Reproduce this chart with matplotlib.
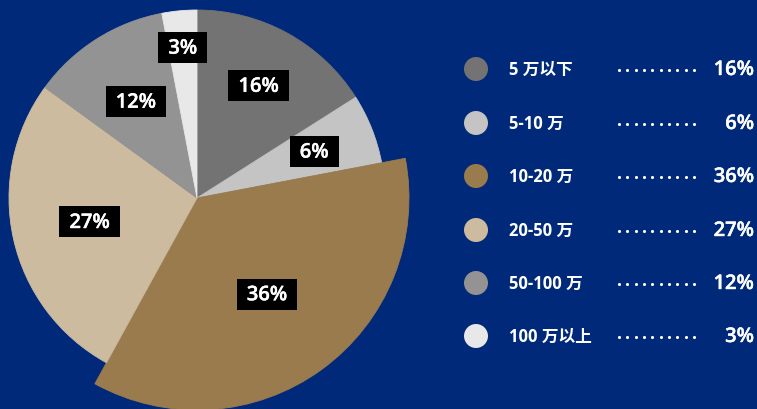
import matplotlib
matplotlib.use("Agg")
import matplotlib.pyplot as plt
import matplotlib.patheffects as pe
from matplotlib.patches import Rectangle, Circle
import numpy as np

plt.rcParams['font.family'] = ['Open Sans', 'Noto Sans CJK SC', 'DejaVu Sans']

# Data
categories = ["5 万以下", "5-10 万", "10-20 万", "20-50 万", "50-100 万", "100 万以上"]
shares = [16, 6, 36, 27, 12, 3]
pct_labels = ["16%", "6%", "36%", "27%", "12%", "3%"]
colors = ["#737373", "#c3c4c3", "#9a7b4d", "#cdbb9f", "#939393", "#e8e8e8"]

BG = "#00297a"
W, H = 757, 409

fig = plt.figure(figsize=(W / 100, H / 100), dpi=100, facecolor=BG)
ax = fig.add_axes([0, 0, 1, 1])
ax.set_facecolor(BG)

# Pie (pixel-space data coordinates, y upward)
cx, cy, r = 197, H - 198, 188
wedges, _ = ax.pie(shares, colors=colors, startangle=90, counterclock=False,
                   radius=r, center=(cx, cy),
                   wedgeprops=dict(linewidth=0.6))
for w, c in zip(wedges, colors):
    w.set_edgecolor(c)
# the largest slice is drawn with an enlarged radius
big = int(np.argmax(shares))
wedges[big].set_radius(212)

ax.set_xlim(0, W)
ax.set_ylim(0, H)
ax.set_aspect('equal')
ax.axis('off')

# slightly heavier strokes for the percentage figures
heavy = [pe.withStroke(linewidth=0.3, foreground='white')]

# Percentage labels on black boxes
label_dist = [128, 126, 119, 110, 114, 151]
texts = []
for w, lab, d in zip(wedges, pct_labels, label_dist):
    ang = np.deg2rad((w.theta1 + w.theta2) / 2)
    x = cx + d * np.cos(ang)
    y = cy + d * np.sin(ang)
    t = ax.text(x, y - 1, lab, ha='center', va='center', color='white',
                fontsize=14.5, fontweight='semibold', zorder=5,
                path_effects=heavy)
    texts.append((t, x, y))

fig.canvas.draw()
renderer = fig.canvas.get_renderer()
for t, x, y in texts:
    ext = t.get_window_extent(renderer)
    bw = ext.width + 20
    bh = 31
    ax.add_patch(Rectangle((x - bw / 2, y - bh / 2), bw, bh,
                           facecolor='black', edgecolor='none', zorder=4))

# Legend
leg_y = [69, 123, 176, 230, 283, 336]
for cat, lab, col, yp in zip(categories, pct_labels, colors, leg_y):
    y = H - yp
    ax.add_patch(Circle((476, y), 12, facecolor=col, edgecolor='none'))
    ax.text(509, y - 1, cat, ha='left', va='center', color='white',
            fontsize=12, fontweight='bold')
    ax.scatter(np.linspace(619, 694, 10), [y - 1] * 10, s=5, color='white',
               linewidths=0)
    ax.text(754, y - 1, lab, ha='right', va='center', color='white',
            fontsize=14.5, fontweight='semibold', path_effects=heavy)

fig.savefig("out.png", dpi=100, facecolor=BG)
